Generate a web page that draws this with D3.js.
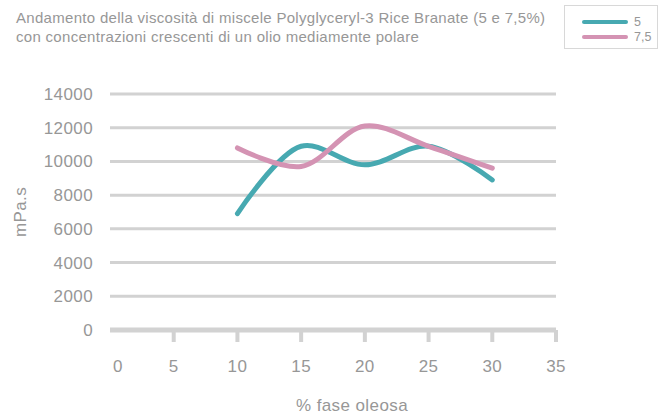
<!DOCTYPE html>
<html>
<head>
<meta charset="utf-8">
<script src="https://cdn.jsdelivr.net/npm/d3@7"></script>
<style>
  body { margin: 0; background: #fff; }
  text { font-family: "Liberation Sans", Arial, sans-serif; fill: #979797; }
</style>
</head>
<body>
<div id="chart"></div>
<script>
// data
const concentrations = [10, 15, 20, 25, 30];
const serie5 = [6900, 10900, 9800, 10900, 8900];
const serie75 = [10800, 9700, 12100, 10900, 9600];
const seriesNames = ["5", "7,5"];
const seriesColors = ["#47a9b1", "#d493b3"];
const xTicks = [0, 5, 10, 15, 20, 25, 30, 35];
const yTicks = [0, 2000, 4000, 6000, 8000, 10000, 12000, 14000];

const W = 664, H = 416;
const margin = { top: 94, right: 108, bottom: 86, left: 110 };
const width = W - margin.left - margin.right,
    height = H - margin.top - margin.bottom;

const svg = d3.select("#chart").append("svg")
    .attr("width", W).attr("height", H);

// title
const title = svg.append("text").attr("x", 16).attr("y", 23)
    .style("font-size", "15px").style("letter-spacing", "0.3px");
title.append("tspan").attr("x", 16).text("Andamento della viscosità di miscele Polyglyceryl-3 Rice Branate (5 e 7,5%)");
title.append("tspan").attr("x", 16).attr("dy", 19).text("con concentrazioni crescenti di un olio mediamente polare");

const g = svg.append("g").attr("transform", "translate(" + margin.left + "," + margin.top + ")");

let x = d3.scaleLinear().domain([0, 35]).range([0, width]);
let y = d3.scaleLinear().domain([0, 14000]).range([height, 0]);

// gridlines
g.selectAll(".grid")
    .data(yTicks.filter(d => d > 0))
    .enter().append("line")
    .attr("x1", 0).attr("x2", width)
    .attr("y1", d => y(d)).attr("y2", d => y(d))
    .attr("stroke", "#d2d2d2").attr("stroke-width", 3);

// y labels
g.selectAll(".ylab")
    .data(yTicks)
    .enter().append("text")
    .attr("x", -17).attr("y", d => y(d)).attr("dy", "0.35em")
    .attr("text-anchor", "end").style("font-size", "17px").style("letter-spacing", "0.4px")
    .text(d => d);

// x axis baseline + ticks
g.append("line")
    .attr("x1", 0).attr("x2", width)
    .attr("y1", height).attr("y2", height)
    .attr("stroke", "#d2d2d2").attr("stroke-width", 5);
g.selectAll(".xtick")
    .data(xTicks.filter(d => d > 0))
    .enter().append("line")
    .attr("x1", d => x(d)).attr("x2", d => x(d))
    .attr("y1", height).attr("y2", height + 12)
    .attr("stroke", "#d2d2d2").attr("stroke-width", 4);
g.selectAll(".xlab")
    .data(xTicks)
    .enter().append("text")
    .attr("x", d => d === 0 ? x(d) + 8 : x(d)).attr("y", height + 42)
    .attr("text-anchor", "middle").style("font-size", "17px").style("letter-spacing", "0.4px")
    .text(d => d);

// axis titles
svg.append("text")
    .attr("x", 352).attr("y", 411)
    .attr("text-anchor", "middle").style("font-size", "17px").style("letter-spacing", "0.4px")
    .text("% fase oleosa");
svg.append("text")
    .attr("transform", "translate(26," + (margin.top + y(7000)) + ")rotate(-90)")
    .attr("text-anchor", "middle").style("font-size", "17px").style("letter-spacing", "0.4px")
    .text("mPa.s");

// lines
const line = d3.line()
    .x((d, i) => x(concentrations[i]))
    .y(d => y(d))
    .curve(d3.curveCatmullRom.alpha(0.5));

[serie5, serie75].forEach((s, i) => {
    g.append("path")
        .datum(s)
        .attr("d", line)
        .attr("fill", "none")
        .attr("stroke", seriesColors[i])
        .attr("stroke-width", 5)
        .attr("stroke-linecap", "round");
});

// legend
const leg = svg.append("g").attr("transform", "translate(564,5)");
leg.append("rect")
    .attr("x", 0.5).attr("y", 0.5).attr("width", 93).attr("height", 43)
    .attr("fill", "#fff").attr("stroke", "#d8d8d8");
seriesNames.forEach((n, i) => {
    leg.append("line")
        .attr("x1", 20).attr("x2", 62)
        .attr("y1", 17 + i * 15).attr("y2", 17 + i * 15)
        .attr("stroke", seriesColors[i]).attr("stroke-width", 4)
        .attr("stroke-linecap", "round");
    leg.append("text")
        .attr("x", 70).attr("y", 17 + i * 15).attr("dy", "0.3em")
        .style("font-size", "12.5px")
        .text(n);
});
</script>
</body>
</html>
